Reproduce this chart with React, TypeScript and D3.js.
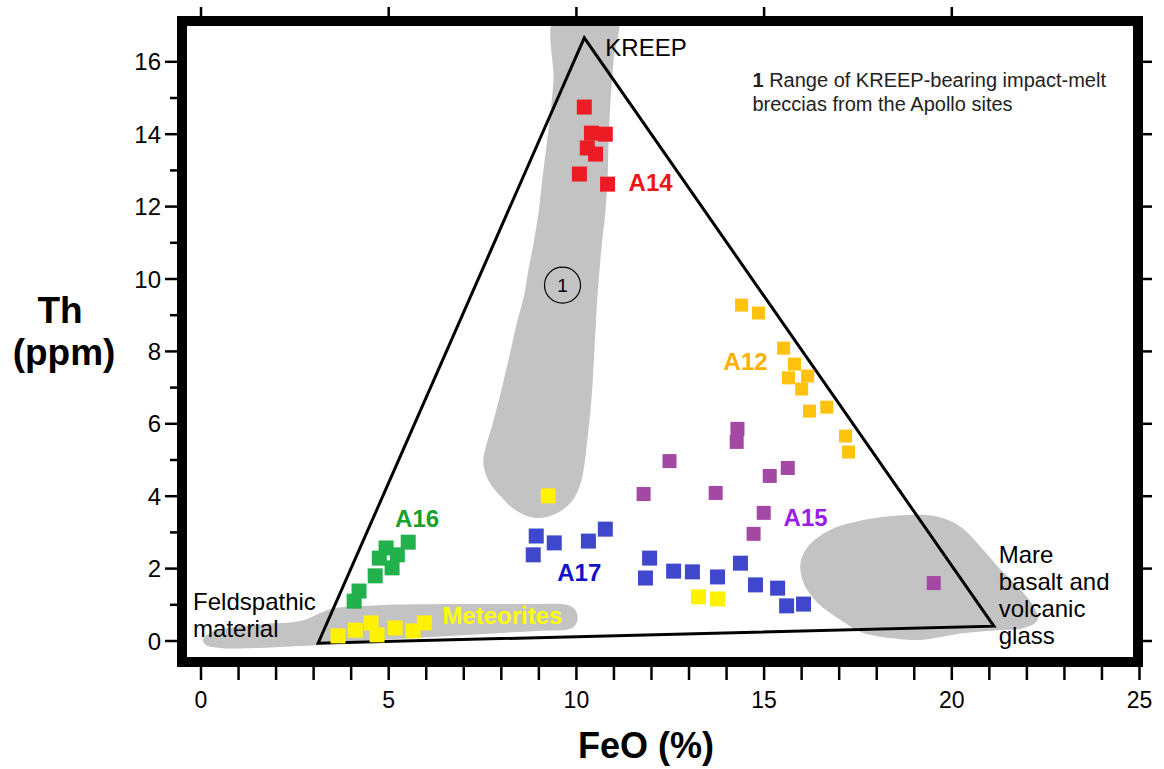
import React from 'react';
import * as d3 from 'd3';

// ---- data (FeO %, Th ppm) ----
const xMajorTicks = [0, 5, 10, 15, 20, 25];
const xAllTicks = [0, 1, 2, 3, 4, 5, 6, 7, 8, 9, 10, 11, 12, 13, 14, 15, 16, 17, 18, 19, 20, 21, 22, 23, 24, 25];
const yMajorTicks = [0, 2, 4, 6, 8, 10, 12, 14, 16];
const yMinorTicks = [1, 3, 5, 7, 9, 11, 13, 15];
const xTopTicks = [0, 5, 10, 15, 20];

const a14 = [[10.21, 14.75], [10.40, 14.03], [10.77, 14.0], [10.29, 13.62], [10.51, 13.45], [10.08, 12.90], [10.83, 12.62]];
const a12 = [[14.4, 9.28], [14.85, 9.06], [15.52, 8.09], [15.81, 7.65], [15.65, 7.27], [16.16, 7.32], [16.0, 6.96], [16.67, 6.46], [16.21, 6.35], [17.17, 5.66], [17.25, 5.22]];
const a15 = [[14.29, 5.86], [14.27, 5.50], [12.48, 4.97], [11.79, 4.06], [13.71, 4.09], [15.15, 4.56], [15.63, 4.78], [14.99, 3.54], [14.72, 2.96], [19.52, 1.60]];
const a17 = [[8.93, 2.90], [9.41, 2.71], [10.32, 2.76], [10.77, 3.09], [8.85, 2.38], [11.95, 2.29], [11.84, 1.74], [12.59, 1.93], [13.09, 1.91], [13.76, 1.77], [14.37, 2.15], [14.77, 1.55], [15.36, 1.46], [15.60, 0.97], [16.05, 1.02]];
const a16 = [[5.52, 2.73], [4.93, 2.57], [5.23, 2.38], [4.75, 2.29], [5.09, 2.02], [4.64, 1.80], [4.21, 1.38], [4.08, 1.10]];
const meteorites = [[3.65, 0.14], [4.11, 0.30], [4.53, 0.50], [4.69, 0.17], [5.17, 0.36], [5.65, 0.28], [5.95, 0.50], [9.25, 4.01], [13.25, 1.22], [13.76, 1.16]];

const triangle = [[10.21, 16.66], [3.12, -0.06], [21.12, 0.41]];

const kreepBand = [[11.07, 17.3], [10.99, 16.05], [10.91, 14.94], [10.85, 13.56], [10.83, 12.73], [10.77, 11.82], [10.67, 10.88], [10.56, 9.50], [10.48, 8.04], [10.40, 6.66], [10.29, 5.55], [10.19, 4.72], [10.05, 4.17], [9.84, 3.81], [9.44, 3.51], [8.91, 3.40], [8.37, 3.62], [7.97, 4.01], [7.65, 4.45], [7.52, 4.94], [7.60, 5.41], [7.76, 5.97], [7.97, 6.80], [8.19, 7.76], [8.40, 8.73], [8.61, 9.56], [8.72, 10.25], [8.85, 10.94], [8.99, 11.82], [9.09, 12.73], [9.20, 13.65], [9.31, 14.59], [9.39, 15.50], [9.44, 17.3]];
const feldBand = [[0.05, 0.03], [0.29, 0.25], [0.91, 0.39], [1.71, 0.47], [2.64, 0.55], [3.17, 0.77], [3.57, 0.91], [4.77, 0.99], [6.64, 1.02], [8.51, 1.02], [9.79, 0.99], [9.97, 0.86], [10.03, 0.58], [9.89, 0.36], [9.04, 0.28], [7.97, 0.22], [6.19, 0.11], [4.77, 0.03], [3.44, -0.08], [2.64, -0.14], [1.57, -0.19], [0.51, -0.19], [0.13, -0.11]];
const mareBlob = [[18.83, 3.48], [17.65, 3.34], [16.77, 3.07], [16.16, 2.60], [15.97, 2.15], [16.05, 1.60], [16.43, 1.05], [17.04, 0.58], [17.57, 0.25], [18.37, 0.08], [19.17, 0.03], [20.32, 0.22], [21.23, 0.30], [21.92, 0.36], [22.29, 0.58], [22.19, 0.94], [21.84, 1.41], [21.31, 1.96], [20.77, 2.60], [20.24, 3.15], [19.63, 3.43]];

const circleOne = [9.63, 9.83];

const groupLabels = [
  { text: 'A14', at: [11.39, 12.43], color: '#f01414' },
  { text: 'A12', at: [13.92, 7.49], color: '#ffb000' },
  { text: 'A15', at: [15.52, 3.18], color: '#9a1ee8' },
  { text: 'A17', at: [9.49, 1.66], color: '#1212c8' },
  { text: 'A16', at: [5.17, 3.15], color: '#17a02a' },
  { text: 'Meteorites', at: [6.43, 0.47], color: '#ffff00' },
];

const W = 1164;
const H = 769;
const FONT = '"Liberation Sans", Arial, Helvetica, sans-serif';

export default function App() {
  const x = d3.scaleLinear().domain([0, 25]).range([201, 1139.5]);
  const y = d3.scaleLinear().domain([0, 16]).range([641, 61.8]);

  const frame = { x0: 182, y0: 21, x1: 1138, y1: 662 };
  const inner = { x0: 187, y0: 26, x1: 1133, y1: 657 };

  const blob = d3
    .line<number[]>()
    .x((d) => x(d[0]))
    .y((d) => y(d[1]))
    .curve(d3.curveCatmullRomClosed.alpha(0.5));

  const tri = d3
    .line<number[]>()
    .x((d) => x(d[0]))
    .y((d) => y(d[1]))
    .curve(d3.curveLinearClosed);

  const squares = (pts: number[][], fill: string, size: number) =>
    pts.map((p, i) => (
      <rect key={fill + i} x={x(p[0]) - size / 2} y={y(p[1]) - size / 2} width={size} height={size} fill={fill} />
    ));

  const GREY = '#c3c3c3';

  return (
    <svg width={W} height={H} style={{ position: 'absolute', left: 0, top: 0, background: '#fff' }} fontFamily={FONT}>
      <rect x={0} y={0} width={W} height={H} fill="#fff" />
      <defs>
        <clipPath id="plotClip">
          <rect x={inner.x0} y={inner.y0} width={inner.x1 - inner.x0} height={inner.y1 - inner.y0} />
        </clipPath>
      </defs>
      <g clipPath="url(#plotClip)">
        <path d={blob(kreepBand) || ''} fill={GREY} />
        <path d={blob(feldBand) || ''} fill={GREY} />
        <path d={blob(mareBlob) || ''} fill={GREY} />
        <path d={tri(triangle) || ''} fill="none" stroke="#000" strokeWidth={3} strokeLinejoin="miter" />
        <circle cx={x(circleOne[0])} cy={y(circleOne[1])} r={18} fill="none" stroke="#000" strokeWidth={1.2} />
        <text x={x(circleOne[0])} y={y(circleOne[1])} dy="0.36em" textAnchor="middle" fontSize={19} fill="#000">1</text>
        {squares(a14, '#ed1c24', 15)}
        {squares(a12, '#ffc20e', 13)}
        {squares(a15, '#a349a4', 14)}
        {squares(a17, '#3f48cc', 15)}
        {squares(a16, '#22b14c', 15)}
        {squares(meteorites, '#fff200', 15)}
        {groupLabels.map((l) => (
          <text key={l.text} x={x(l.at[0])} y={y(l.at[1])} fontSize={24} fontWeight="bold" fill={l.color}>
            {l.text}
          </text>
        ))}
        <text x={x(10.77)} y={y(16.16)} fontSize={24} fill="#000">KREEP</text>
        <text x={x(14.69)} y={y(15.3)} fontSize={20} fill="#222">
          <tspan fontWeight="bold">1</tspan>
          <tspan> Range of KREEP-bearing impact-melt</tspan>
          <tspan x={x(14.69)} dy={24}>breccias from the Apollo sites</tspan>
        </text>
        <text x={x(-0.21)} y={y(0.86)} fontSize={24} fill="#000">
          <tspan>Feldspathic</tspan>
          <tspan x={x(-0.21)} dy={27}>material</tspan>
        </text>
        <text x={x(21.25)} y={y(2.15)} fontSize={24} fill="#000">
          <tspan>Mare</tspan>
          <tspan x={x(21.25)} dy={27}>basalt and</tspan>
          <tspan x={x(21.25)} dy={27}>volcanic</tspan>
          <tspan x={x(21.25)} dy={27}>glass</tspan>
        </text>
      </g>

      {/* frame */}
      <rect x={frame.x0} y={frame.y0} width={frame.x1 - frame.x0} height={frame.y1 - frame.y0} fill="none" stroke="#000" strokeWidth={10} />

      {/* bottom ticks */}
      {xAllTicks.map((t) => (
        <line key={'bx' + t} x1={x(t)} x2={x(t)} y1={667} y2={680} stroke="#000" strokeWidth={2.5} />
      ))}
      {xMajorTicks.map((t) => (
        <text key={'bl' + t} x={x(t)} y={708} textAnchor="middle" fontSize={23} fill="#000">{t}</text>
      ))}
      {/* top ticks */}
      {xTopTicks.map((t) => (
        <line key={'tx' + t} x1={x(t)} x2={x(t)} y1={7} y2={16} stroke="#000" strokeWidth={2.5} />
      ))}
      {/* left ticks */}
      {yMajorTicks.map((t) => (
        <line key={'ly' + t} x1={165} x2={177} y1={y(t)} y2={y(t)} stroke="#000" strokeWidth={2.5} />
      ))}
      {yMinorTicks.map((t) => (
        <line key={'lm' + t} x1={170} x2={177} y1={y(t)} y2={y(t)} stroke="#000" strokeWidth={2.5} />
      ))}
      {yMajorTicks.map((t) => (
        <text key={'yl' + t} x={161} y={y(t)} dy="0.36em" textAnchor="end" fontSize={24} fill="#000">{t}</text>
      ))}
      {/* right ticks */}
      {yMajorTicks.map((t) => (
        <line key={'ry' + t} x1={1143} x2={1152} y1={y(t)} y2={y(t)} stroke="#000" strokeWidth={2.5} />
      ))}

      {/* axis titles */}
      <text x={646} y={758} textAnchor="middle" fontSize={36} fontWeight="bold" fill="#000">FeO (%)</text>
      <text x={60} y={323} textAnchor="middle" fontSize={37} fontWeight="bold" fill="#000">Th</text>
      <text x={64} y={365} textAnchor="middle" fontSize={37} fontWeight="bold" fill="#000">(ppm)</text>
    </svg>
  );
}
